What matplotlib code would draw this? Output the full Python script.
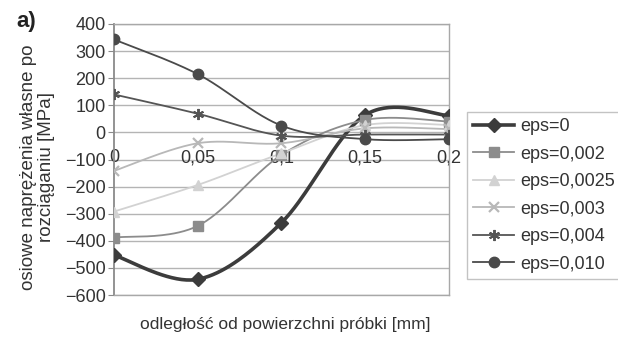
import numpy as np
import matplotlib
matplotlib.use("Agg")
import matplotlib.pyplot as plt

plt.rcParams['font.family'] = ['Liberation Sans', 'DejaVu Sans']

# distance from the surface [mm]
depth = [0.0, 0.05, 0.10, 0.15, 0.20]
x_tick_labels = ["0", "0,05", "0,1", "0,15", "0,2"]

# axial residual stress after tension [MPa]
eps_0 = [-453, -542, -333, 64, 62]
eps_0002 = [-388, -345, -83, 46, 40]
eps_00025 = [-292, -194, -77, 27, 27]
eps_0003 = [-142, -40, -40, 15, 12]
eps_0004 = [140, 69, -12, -8, -8]
eps_0010 = [343, 215, 25, -25, -25]

series_names = ["eps=0", "eps=0,002", "eps=0,0025", "eps=0,003", "eps=0,004", "eps=0,010"]
series_values = [eps_0, eps_0002, eps_00025, eps_0003, eps_0004, eps_0010]

styles = [
    dict(color="#3c3c3c", lw=2.6, marker="D", ms=7),
    dict(color="#8c8c8c", lw=1.3, marker="s", ms=7),
    dict(color="#d2d2d2", lw=1.3, marker="^", ms=7),
    dict(color="#b8b8b8", lw=1.3, marker="x", ms=7, mew=1.6),
    dict(color="#555555", lw=1.3, marker=(6, 2, 0), ms=8, mew=1.4),
    dict(color="#4a4a4a", lw=1.3, marker="o", ms=7.5),
]


def smooth(xs, ys, n=40):
    """Catmull-Rom style bezier smoothing through the points."""
    xs = np.asarray(xs, float)
    ys = np.asarray(ys, float)
    px = np.concatenate([[xs[0]], xs, [xs[-1]]])
    py = np.concatenate([[ys[0]], ys, [ys[-1]]])
    out_x, out_y = [], []
    t = np.linspace(0, 1, n)
    for i in range(1, len(px) - 2):
        p0x, p1x, p2x, p3x = px[i - 1], px[i], px[i + 1], px[i + 2]
        p0y, p1y, p2y, p3y = py[i - 1], py[i], py[i + 1], py[i + 2]
        c1x = p1x + (p2x - p0x) / 6
        c1y = p1y + (p2y - p0y) / 6
        c2x = p2x - (p3x - p1x) / 6
        c2y = p2y - (p3y - p1y) / 6
        bx = (1 - t) ** 3 * p1x + 3 * (1 - t) ** 2 * t * c1x + 3 * (1 - t) * t ** 2 * c2x + t ** 3 * p2x
        by = (1 - t) ** 3 * p1y + 3 * (1 - t) ** 2 * t * c1y + 3 * (1 - t) * t ** 2 * c2y + t ** 3 * p2y
        out_x.extend(bx)
        out_y.extend(by)
    return np.array(out_x), np.array(out_y)


fig = plt.figure(figsize=(6.18, 3.37), dpi=100)
ax = fig.add_axes([0.1845, 0.1246, 0.542, 0.8042])

ax.set_xlim(0, 0.2)
ax.set_ylim(-600, 400)
ax.set_yticks(np.arange(-600, 401, 100))
ax.yaxis.grid(True, color="#b4b4b4", lw=1.0)
ax.set_axisbelow(True)

for sp in ax.spines.values():
    sp.set_color("#a8a8a8")
    sp.set_linewidth(1.0)
ax.spines['left'].set_color("#8a8a8a")
ax.spines['left'].set_linewidth(1.3)

ax.tick_params(axis="y", length=4, color="#8a8a8a", labelsize=13, labelcolor="#333333", pad=2)
ax.set_xticks([])

# category labels sit just under the zero line
for xv, lab in zip(depth, x_tick_labels):
    ax.text(xv, -94, lab, ha="center", va="center", fontsize=13, color="#333333", zorder=1)

handles = []
for name, vals, st in zip(series_names, series_values, styles):
    sx, sy = smooth(depth, vals)
    ax.plot(sx, sy, color=st["color"], lw=st["lw"], zorder=3)
    ax.plot(depth, vals, ls="none", marker=st["marker"], ms=st["ms"],
            color=st["color"], mec=st["color"], mew=st.get("mew", 1), zorder=4)
    h, = ax.plot([], [], color=st["color"], lw=st["lw"], marker=st["marker"],
                 ms=st["ms"], mew=st.get("mew", 1), label=name)
    handles.append(h)

leg = fig.legend(handles=handles, loc="upper left", bbox_to_anchor=(0.755, 0.668),
                 frameon=True, fontsize=13, handlelength=2.3, labelspacing=0.58,
                 borderpad=0.35, borderaxespad=0, fancybox=False, handletextpad=0.3)
leg.get_frame().set_edgecolor("#b4b4b4")
leg.get_frame().set_linewidth(1.0)
for t in leg.get_texts():
    t.set_color("#333333")

fig.text(0.061, 0.505, "osiowe naprężenia własne po\nrozciąganiu [MPa]", rotation=90,
         ha="center", va="center", fontsize=13.5, color="#333333", linespacing=1.1)
fig.text(0.461, 0.036, "odległość od powierzchni próbki [mm]", ha="center", va="center",
         fontsize=12.5, color="#333333")
fig.text(0.027, 0.935, "a)", fontsize=16, fontweight="bold", color="#222222", va="center")

fig.savefig("out.png", dpi=100, facecolor="white")
